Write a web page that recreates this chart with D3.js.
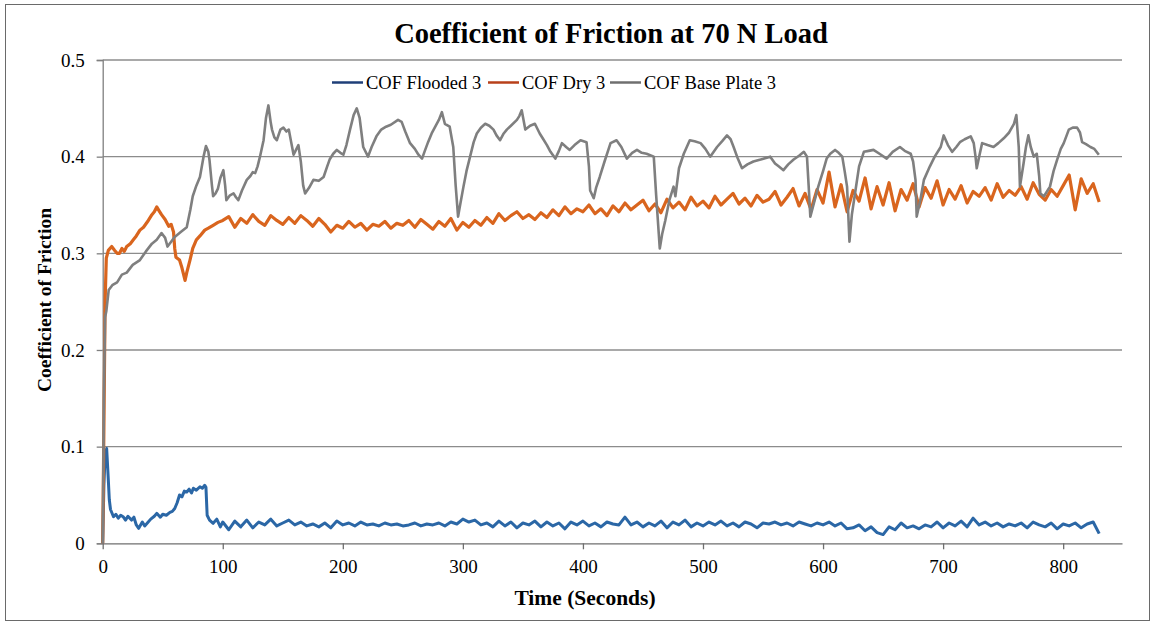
<!DOCTYPE html>
<html>
<head>
<meta charset="utf-8">
<script src="https://cdn.jsdelivr.net/npm/d3@7"></script>
<style>
  body { margin: 0; background: #fff; }
  svg text { font-family: "Liberation Serif", "Times New Roman", serif; fill: #000; }
</style>
</head>
<body>
<script>
// series names + colours
let seriesNames = ["COF Flooded 3", "COF Dry 3", "COF Base Plate 3"];
let seriesColors = ["#2b67a6", "#d9651e", "#7f7f7f"];
let legendColors = ["#1f3f78", "#b8401a", "#6f6f6f"];

let xTicks = [0, 100, 200, 300, 400, 500, 600, 700, 800];
let yTicks = [0, 0.1, 0.2, 0.3, 0.4, 0.5];

// flooded: start (irregular) then every 5 s from 105
let floodedStartT = [0,1,2,3.3,4.5,5.5,6.5,9,11,13,15,17,19,21,24,26,28,30,33,35,37,40,43,45,48,50,53,56,58,60,62,64,66,68,70,72,74,75.5,78,81,83,85,86,87,89,92,95,98,100];
let floodedStartV = [0,0.06,0.09,0.098,0.07,0.045,0.035,0.0275,0.03,0.026,0.029,0.0275,0.024,0.028,0.024,0.027,0.019,0.0155,0.022,0.018,0.0207,0.025,0.028,0.031,0.027,0.030,0.029,0.032,0.033,0.036,0.042,0.05,0.048,0.054,0.053,0.056,0.052,0.057,0.055,0.0585,0.057,0.06,0.058,0.029,0.024,0.0207,0.025,0.017,0.022];
let floodedV = [
  0.014,0.023,0.017,0.024,0.016,0.022,0.019,0.025,0.018,0.021,
  0.024,0.019,0.022,0.018,0.020,0.017,0.021,0.016,0.023,0.019,
  0.021,0.018,0.022,0.019,0.020,0.018,0.021,0.019,0.020,0.018,
  0.019,0.021,0.018,0.020,0.019,0.021,0.018,0.022,0.020,0.025,
  0.022,0.024,0.019,0.021,0.017,0.023,0.018,0.022,0.016,0.021,
  0.019,0.023,0.017,0.022,0.018,0.021,0.015,0.022,0.019,0.023,
  0.018,0.021,0.017,0.022,0.020,0.019,0.027,0.019,0.022,0.017,
  0.021,0.018,0.023,0.016,0.022,0.019,0.024,0.017,0.021,0.018,
  0.022,0.019,0.023,0.018,0.021,0.017,0.022,0.020,0.016,0.021,
  0.020,0.022,0.019,0.021,0.018,0.022,0.020,0.018,0.021,0.019,
  0.022,0.018,0.021,0.015,0.016,0.019,0.013,0.017,0.011,0.009,
  0.017,0.014,0.021,0.016,0.018,0.015,0.019,0.017,0.022,0.016,
  0.021,0.018,0.023,0.017,0.026,0.019,0.022,0.018,0.021,0.017,
  0.020,0.018,0.021,0.016,0.022,0.019,0.017,0.021,0.015,0.020,
  0.018,0.021,0.016,0.020,0.022,0.010];

// dry
let dryStartT = [0,1,2,3,4.7,7.5,10,12,14,16,18,20,23,25.5,28,31,34,38,41,43,45,47,49,52,55,57,59,60,61,64,66,68.6,70,72.7,75,78,81,85,88,92,96,100];
let dryStartV = [0,0.12,0.25,0.295,0.303,0.307,0.303,0.30,0.30,0.305,0.302,0.307,0.31,0.314,0.318,0.324,0.327,0.334,0.34,0.343,0.348,0.344,0.34,0.335,0.328,0.33,0.322,0.305,0.296,0.293,0.285,0.272,0.28,0.293,0.305,0.314,0.318,0.324,0.326,0.329,0.332,0.334];
let dryV = [
  0.338,0.327,0.336,0.331,0.340,0.333,0.329,0.339,0.334,0.330,
  0.337,0.331,0.339,0.334,0.328,0.336,0.330,0.322,0.329,0.326,
  0.333,0.327,0.331,0.324,0.330,0.328,0.333,0.326,0.331,0.329,
  0.334,0.327,0.335,0.330,0.325,0.333,0.328,0.336,0.324,0.332,
  0.327,0.334,0.329,0.337,0.331,0.341,0.334,0.339,0.343,0.336,
  0.340,0.335,0.342,0.337,0.345,0.339,0.348,0.341,0.346,0.343,
  0.350,0.341,0.346,0.339,0.349,0.343,0.352,0.345,0.350,0.355,
  0.344,0.351,0.342,0.356,0.347,0.353,0.345,0.358,0.349,0.354,
  0.347,0.359,0.350,0.356,0.362,0.351,0.357,0.349,0.360,0.353,
  0.356,0.364,0.350,0.358,0.367,0.349,0.362,0.345,0.366,0.352,
  0.384,0.348,0.371,0.343,0.365,0.354,0.378,0.346,0.369,0.350,
  0.373,0.344,0.366,0.355,0.372,0.348,0.368,0.357,0.375,0.350,
  0.366,0.356,0.370,0.352,0.364,0.359,0.368,0.355,0.372,0.358,
  0.365,0.360,0.369,0.356,0.373,0.361,0.355,0.366,0.359,0.370,
  0.381,0.345,0.377,0.362,0.372,0.353];

// base plate, read at the turning points
let baseT = [0,1,2,3,5,8,12,16,20,25,31,36,41,45,49,52,54,57,60,65,70,73,75,78,81,84,86,88,89,91,92,94,96,98,100.5,102,103,106,109,111,113,116,120,123,125,127,129,131,134,136,138,140,141,143,145,148,150.5,153,155,157,159,161,163,165,167,168.6,172,175.5,180,184,187,189,192,195,198,200.5,203,206,209,211.6,214,217,221,224,228,232,236,240,246,249,252,256,260,263,266,268,271,274,277,280,282.5,285,289,292,294,296,298,300.5,303,306,309,311.6,315,318.6,322,325.5,328,331,334,336.6,340,345,347,349,352,356,360,364,367,370,373,377,380,382.5,386,389,393,398,403,405,406,409,411,414,418,423,428,432,436.6,441,445,449,453,459,461,464,466,468.6,472,475.5,477,480,484,489,493,498,502,506,511.7,516,520,523,525.5,529,532.5,537,542,548,556,560,563,567,571,575.5,580,584,586.6,588,589.4,592,596,600,603,606,610,613,616,618,620,622,624,627,630,634,638,642,647,653,658,664,668,673,675,677,678,681,684,689,693,698,700.5,704,707.5,711,714,718,723,725.5,727,728,730,732.5,737,742,746,750.5,755,759,761,763,764,767,769,771,773,775.5,778,780,781,784,789,792,795,798,800.5,804.7,808,811.6,814,815.8,819,822.7,826,829.7];
let baseV = [0,0.15,0.234,0.24,0.262,0.267,0.27,0.278,0.28,0.288,0.293,0.302,0.31,0.314,0.321,0.316,0.307,0.312,0.317,0.322,0.327,0.345,0.359,0.37,0.379,0.4,0.411,0.405,0.396,0.37,0.359,0.362,0.367,0.378,0.386,0.37,0.355,0.36,0.362,0.358,0.355,0.365,0.376,0.38,0.384,0.383,0.39,0.4,0.417,0.44,0.453,0.435,0.428,0.42,0.417,0.428,0.43,0.426,0.428,0.415,0.402,0.407,0.412,0.395,0.37,0.362,0.368,0.376,0.375,0.379,0.39,0.397,0.403,0.407,0.404,0.402,0.412,0.428,0.443,0.45,0.44,0.41,0.40,0.41,0.421,0.428,0.431,0.433,0.438,0.436,0.426,0.414,0.408,0.402,0.398,0.405,0.415,0.424,0.431,0.438,0.446,0.434,0.431,0.41,0.37,0.338,0.352,0.369,0.385,0.40,0.415,0.424,0.43,0.434,0.432,0.428,0.422,0.417,0.424,0.428,0.432,0.438,0.442,0.448,0.428,0.432,0.434,0.424,0.418,0.412,0.405,0.398,0.406,0.414,0.41,0.407,0.412,0.417,0.415,0.39,0.365,0.357,0.368,0.379,0.395,0.414,0.417,0.41,0.398,0.404,0.407,0.404,0.403,0.40,0.36,0.305,0.32,0.334,0.355,0.369,0.359,0.388,0.403,0.417,0.416,0.414,0.408,0.40,0.41,0.416,0.422,0.418,0.41,0.398,0.388,0.392,0.395,0.397,0.40,0.393,0.39,0.386,0.392,0.397,0.401,0.405,0.40,0.37,0.338,0.35,0.369,0.385,0.398,0.403,0.407,0.404,0.40,0.385,0.369,0.312,0.34,0.365,0.39,0.405,0.406,0.407,0.403,0.398,0.405,0.41,0.406,0.403,0.395,0.376,0.338,0.355,0.376,0.39,0.4,0.41,0.422,0.412,0.405,0.41,0.415,0.418,0.421,0.414,0.4,0.388,0.4,0.414,0.412,0.41,0.414,0.419,0.425,0.434,0.443,0.41,0.369,0.393,0.41,0.422,0.41,0.40,0.403,0.38,0.362,0.359,0.369,0.385,0.397,0.408,0.414,0.428,0.43,0.43,0.425,0.415,0.413,0.41,0.408,0.402];

// build point lists
function joinPts(ts, vs) { return ts.map((t, i) => [t, vs[i]]); }
function stepPts(t0, step, vs) { return vs.map((v, i) => [t0 + i * step, v]); }

let series = [
  joinPts(floodedStartT, floodedStartV).concat(stepPts(105, 5, floodedV)),
  joinPts(dryStartT, dryStartV).concat(stepPts(105, 5, dryV)),
  joinPts(baseT, baseV)
];

let W = 1155, H = 626;
let margin = {top: 60, left: 102.7, right: 33, bottom: 82.7};
let plotW = W - margin.left - margin.right;
let plotH = H - margin.top - margin.bottom;

let svg = d3.select("body").append("svg")
  .attr("width", W).attr("height", H);

// outer frame
svg.append("rect")
  .attr("x", 5.5).attr("y", 4.5)
  .attr("width", 1144).attr("height", 616)
  .attr("fill", "none").attr("stroke", "#6a6a6a").attr("stroke-width", 1);

let g = svg.append("g").attr("transform", "translate(" + margin.left + "," + margin.top + ")");

let x = d3.scaleLinear().domain([0, 849]).range([0, plotW]);
let y = d3.scaleLinear().domain([0, 0.5]).range([plotH, 0]);

// grid
g.selectAll(".grid")
  .data(yTicks.slice(1))
  .enter().append("line")
  .attr("x1", 0).attr("x2", plotW)
  .attr("y1", d => y(d)).attr("y2", d => y(d))
  .attr("stroke", "#8c8c8c").attr("stroke-width", 1.3);

// y axis
let yAxis = g.append("g")
  .call(d3.axisLeft(y).tickValues(yTicks).tickSize(6).tickPadding(12).tickFormat(d => d === 0 ? "0" : d3.format(".1f")(d)));
yAxis.select(".domain").attr("stroke", "#7f7f7f").attr("stroke-width", 1.3);
yAxis.selectAll(".tick line").attr("stroke", "#7f7f7f").attr("stroke-width", 1.3);
yAxis.selectAll(".tick text").style("font-size", "19px").style("font-family", "Liberation Serif");

// x axis
let xAxis = g.append("g")
  .attr("transform", "translate(0," + plotH + ")")
  .call(d3.axisBottom(x).tickValues(xTicks).tickSize(6).tickSizeOuter(0).tickPadding(10));
xAxis.select(".domain").attr("stroke", "#6f6f6f").attr("stroke-width", 1.3);
xAxis.selectAll(".tick line").attr("stroke", "#6f6f6f").attr("stroke-width", 1.3);
xAxis.selectAll(".tick text").style("font-size", "19px").style("font-family", "Liberation Serif");

// lines
let line = d3.line().x(d => x(d[0])).y(d => y(d[1]));
let widths = [3, 3.2, 2.6];
[0, 1, 2].forEach(i => {
  g.append("path")
    .datum(series[i])
    .attr("fill", "none")
    .attr("stroke", seriesColors[i])
    .attr("stroke-width", widths[i])
    .attr("stroke-linejoin", "round")
    .attr("d", line);
});

// legend
let legendX = [332, 488, 610];
let leg = svg.append("g");
seriesNames.forEach((name, i) => {
  leg.append("line")
    .attr("x1", legendX[i]).attr("x2", legendX[i] + 31)
    .attr("y1", 82.5).attr("y2", 82.5)
    .attr("stroke", legendColors[i]).attr("stroke-width", 2.5);
  leg.append("text")
    .attr("x", legendX[i] + 34).attr("y", 88.5)
    .style("font-size", "18.5px")
    .text(name);
});

// titles
svg.append("text")
  .attr("x", 611).attr("y", 43)
  .attr("text-anchor", "middle")
  .style("font-size", "28.5px").style("font-weight", "bold")
  .text("Coefficient of Friction at 70 N Load");

svg.append("text")
  .attr("x", 585).attr("y", 605)
  .attr("text-anchor", "middle")
  .style("font-size", "21.5px").style("font-weight", "bold")
  .text("Time (Seconds)");

svg.append("text")
  .attr("transform", "translate(51,300) rotate(-90)")
  .attr("text-anchor", "middle")
  .style("font-size", "19.5px").style("font-weight", "bold")
  .text("Coefficient  of Friction");
</script>
</body>
</html>
